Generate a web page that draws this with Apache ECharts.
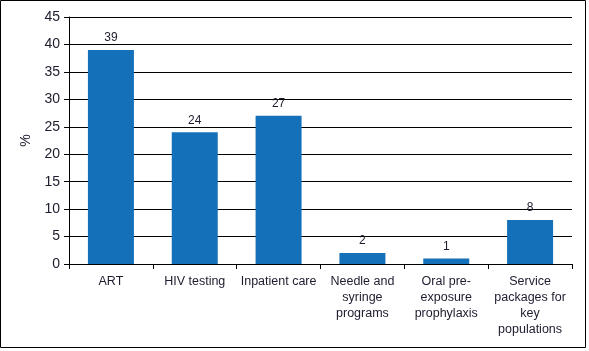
<!DOCTYPE html>
<html>
<head>
<meta charset="utf-8">
<script src="https://cdn.jsdelivr.net/npm/echarts@6/dist/echarts.min.js"></script>
<style>
  html, body { margin: 0; padding: 0; background: #fff; }
  #chart { width: 589px; height: 351px; }
</style>
</head>
<body>
<div id="chart"></div>
<script>
const categories = ['ART', 'HIV testing', 'Inpatient care', 'Needle and\nsyringe\nprograms',
  'Oral pre-\nexposure\nprophylaxis', 'Service\npackages for\nkey\npopulations'];
const values = [39, 24, 27, 2, 1, 8];

const font = '"Liberation Sans Narrow", "Arial Narrow", "Liberation Sans", sans-serif';
const textColor = '#1c1c2e';

let chart = echarts.init(document.getElementById('chart'));
chart.setOption({
  animation: false,
  textStyle: { fontFamily: font },
  graphic: [{
    type: 'rect',
    shape: { x: 0.5, y: 0.5, width: 585, height: 347 },
    style: { fill: 'none', stroke: '#000', lineWidth: 1 },
    silent: true
  }],
  grid: { left: 69, right: 17, top: 17, bottom: 87 },
  xAxis: {
    type: 'category',
    data: categories,
    axisLine: { lineStyle: { color: '#000', width: 1 } },
    axisTick: { show: true, length: 5, lineStyle: { color: '#000' } },
    axisLabel: {
      color: textColor, fontSize: 12.5, fontFamily: font,
      lineHeight: 16, margin: 10, interval: 0
    }
  },
  yAxis: {
    type: 'value',
    min: 0, max: 45, interval: 5,
    name: '%',
    nameLocation: 'middle',
    nameGap: 28,
    nameRotate: 90,
    nameTextStyle: { color: textColor, fontSize: 14, fontFamily: font },
    axisLine: { show: true, lineStyle: { color: '#000', width: 1 } },
    axisTick: { show: true, length: 5, lineStyle: { color: '#000' } },
    axisLabel: { color: textColor, fontSize: 14, fontFamily: font, margin: 9 },
    splitLine: { lineStyle: { color: '#000', width: 1 } }
  },
  series: [{
    type: 'bar',
    data: values,
    barWidth: 46,
    itemStyle: { color: '#1470b8' },
    label: {
      show: true, position: 'top', distance: 6,
      color: textColor, fontSize: 12, fontFamily: font
    }
  }]
});
</script>
</body>
</html>
